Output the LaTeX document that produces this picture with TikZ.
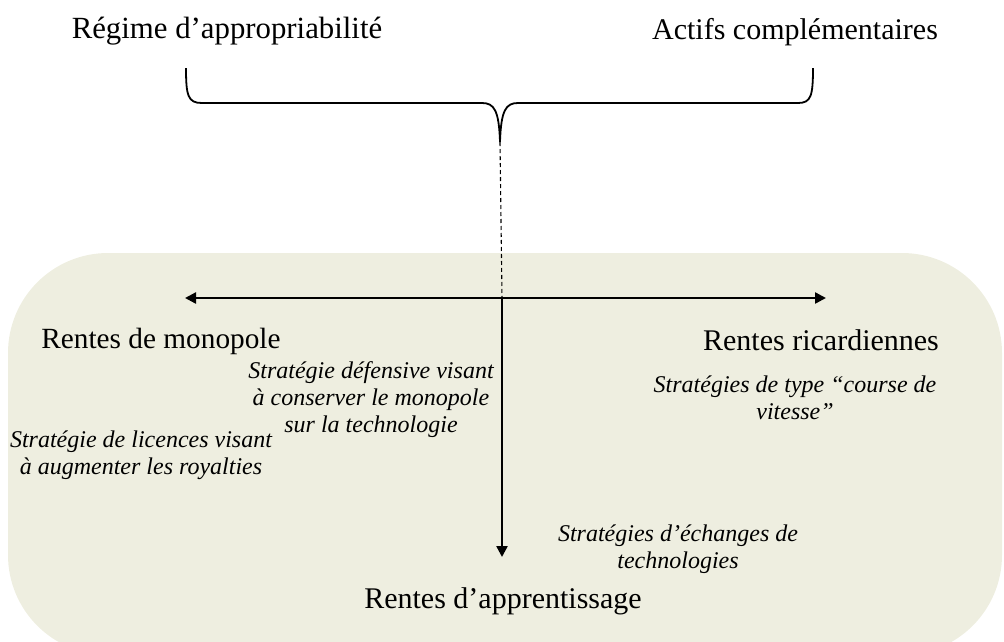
\documentclass[tikz,border=0pt]{standalone}
\usepackage{fontspec}
\setmainfont{Liberation Serif}
\usetikzlibrary{arrows.meta}
\definecolor{bgbeige}{RGB}{238,238,224}
\tikzset{
  big/.style={font=\fontsize{30}{36}\selectfont, inner sep=0pt, anchor=base},
  small/.style={font=\fontsize{24}{27}\selectfont\itshape, inner sep=0pt, align=center, anchor=base},
  axis/.style={line width=2.4pt, -{Triangle[length=11pt,width=11pt]}},
  braceline/.style={line width=1.8pt},
  guide/.style={line width=1.1pt, dash pattern=on 4pt off 3pt},
}
\begin{document}
\begin{tikzpicture}[x=1pt,y=-1pt]
\useasboundingbox (0,0) rectangle (1004,641);
\fill[bgbeige, rounded corners=100pt] (8,253) rectangle (1002,655);
% top labels
\node[big, font=\fontsize{30.8}{36}\selectfont] (regime) at (227,38) {Régime d’appropriabilité};
\node[big] (actifs) at (795,39) {Actifs complémentaires};
% brace
\coordinate (tip) at (500,142);
\draw[braceline] (186,68) .. controls (186,96) and (188,103) .. (202,103) -- (482,103)
  .. controls (494,103) and (499,110) .. (tip)
  .. controls (501,110) and (506,103) .. (518,103) -- (798,103)
  .. controls (811,103) and (813,96) .. (813,68);
% axes
\coordinate (left) at (185,298);
\coordinate (right) at (826,298);
\coordinate (center) at (502,298);
\coordinate (bottom) at (502,557);
\draw[guide] (tip) -- (center);
\draw[axis, {Triangle[length=11pt,width=11pt]}-{Triangle[length=11pt,width=11pt]}] (left) -- (right);
\draw[axis] (center) -- (bottom);
% labels
\node[big, font=\fontsize{29.3}{36}\selectfont] (mono) at (161,348) {Rentes de monopole};
\node[big] (ricard) at (821,350) {Rentes ricardiennes};
\node[big] (appr) at (503,608) {Rentes d’apprentissage};
\node[small] (def) at (371,432) {Stratégie défensive visant\\à conserver le monopole\\sur la technologie};
\node[small] (lic) at (141,474) {Stratégie de licences visant\\à augmenter les royalties};
\node[small] (course) at (795,419) {Stratégies de type “course de\\vitesse”};
\node[small] (ech) at (678,568) {Stratégies d’échanges de\\technologies};
\end{tikzpicture}
\end{document}
